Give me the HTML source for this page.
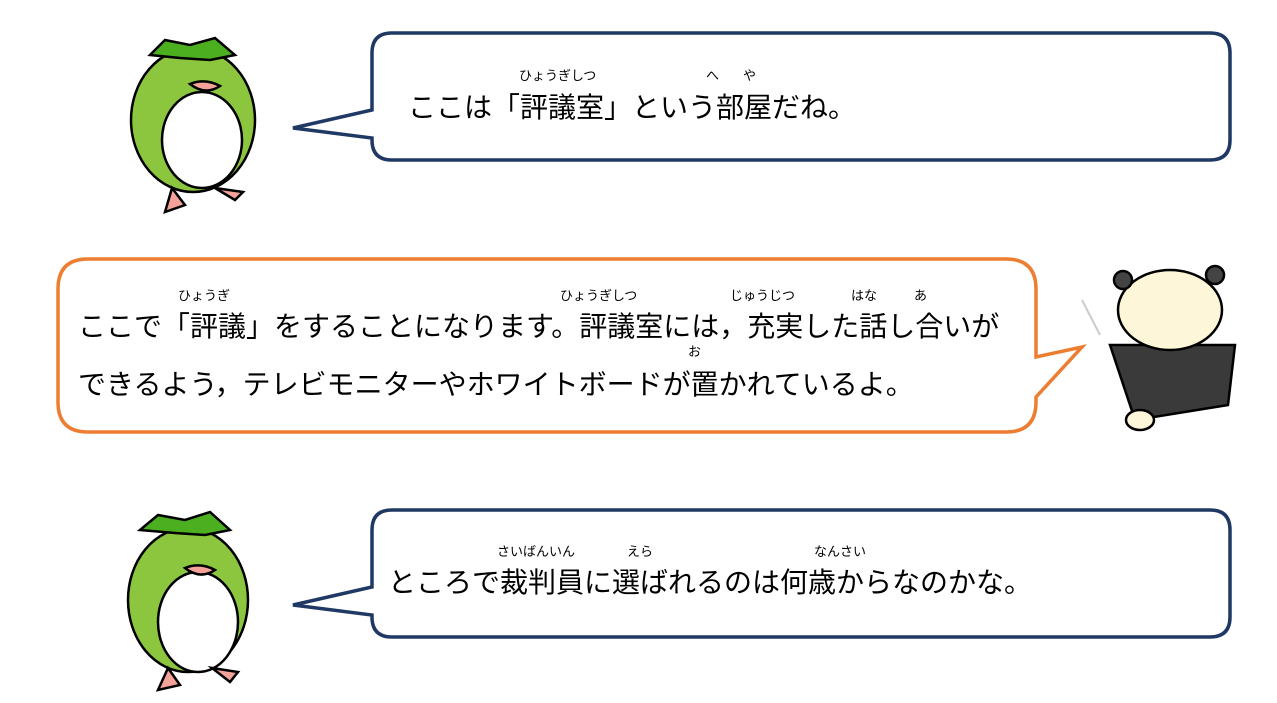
<!DOCTYPE html>
<html><head><meta charset="utf-8"><style>
body{margin:0;width:1277px;height:703px;background:#fff;position:relative;overflow:hidden;font-family:"Liberation Sans","Noto Sans CJK JP",sans-serif;color:#000}
.t{position:absolute;font-size:28px;white-space:nowrap;line-height:1}
.r{position:absolute;font-size:13px;white-space:nowrap;line-height:1}
</style></head><body>
<svg width="1277" height="703" style="position:absolute;left:0;top:0">
<path d="M392,33 H1210 Q1230,33 1230,53 V140 Q1230,160 1210,160 H392 Q372,160 372,140 V138 L293,128 L372,110 V53 Q372,33 392,33 Z" fill="#fff" stroke="#1f3864" stroke-width="3.5"/>
<path d="M88,259 H1006 Q1036,259 1036,289 V357 L1082,347 L1036,397 V402 Q1036,432 1006,432 H88 Q58,432 58,402 V289 Q58,259 88,259 Z" fill="#fff" stroke="#ed7d31" stroke-width="3.5"/>
<path d="M392,510 H1210 Q1230,510 1230,530 V617 Q1230,637 1210,637 H392 Q372,637 372,617 V615 L293,605 L372,587 V530 Q372,510 392,510 Z" fill="#fff" stroke="#1f3864" stroke-width="3.5"/>
<g stroke="#000" stroke-width="2.5">
<ellipse cx="193" cy="120" rx="62" ry="72" fill="#8cc63f"/>
<path d="M150,55 L165,40 L190,45 L215,38 L235,55 L210,60 L180,58 Z" fill="#4caf20"/>
<ellipse cx="202" cy="140" rx="40" ry="48" fill="#fff"/>
<path d="M190,84 Q205,78 220,86 Q205,96 190,84Z" fill="#f4a29a"/>
<path d="M172,188 L165,212 L185,205 Z M215,188 L235,200 L243,192 Z" fill="#f4a29a"/>
</g>
<g stroke="#000" stroke-width="2.5">
<ellipse cx="188" cy="600" rx="60" ry="72" fill="#8cc63f"/>
<path d="M140,530 L158,515 L185,520 L210,512 L230,530 L205,535 L175,533 Z" fill="#4caf20"/>
<ellipse cx="198" cy="622" rx="40" ry="50" fill="#fff"/>
<path d="M185,568 Q200,562 215,570 Q200,580 185,568Z" fill="#f4a29a"/>
<path d="M168,668 L158,690 L180,685 Z M212,668 L230,682 L238,672 Z" fill="#f4a29a"/>
</g>
<g stroke="#000" stroke-width="2.5">
<path d="M1110,345 L1235,345 L1228,405 L1135,420 Z" fill="#3a3a3a"/>
<ellipse cx="1170" cy="310" rx="52" ry="40" fill="#fdf6d8"/>
<circle cx="1123" cy="280" r="9" fill="#444"/><circle cx="1215" cy="275" r="9" fill="#444"/>
<ellipse cx="1140" cy="420" rx="14" ry="10" fill="#fdf6d8"/>
</g>
<line x1="1082" y1="300" x2="1100" y2="335" stroke="#ccc" stroke-width="2"/>
</svg>
<div class="r" style="left:519px;top:69px">ひょうぎしつ</div>
<div class="r" style="left:706px;top:69px">へ</div>
<div class="r" style="left:743px;top:69px">や</div>
<div class="t" style="left:408px;top:94px">ここは「評議室」という部屋だね。</div>
<div class="r" style="left:178px;top:289px">ひょうぎ</div>
<div class="r" style="left:560px;top:289px">ひょうぎしつ</div>
<div class="r" style="left:730px;top:289px">じゅうじつ</div>
<div class="r" style="left:851px;top:289px">はな</div>
<div class="r" style="left:914px;top:289px">あ</div>
<div class="t" style="left:78px;top:313px">ここで「評議」をすることになります。評議室には，充実した話し合いが</div>
<div class="r" style="left:688px;top:345px">お</div>
<div class="t" style="left:78px;top:371px">できるよう，テレビモニターやホワイトボードが置かれているよ。</div>
<div class="r" style="left:497px;top:545px">さいばんいん</div>
<div class="r" style="left:627px;top:545px">えら</div>
<div class="r" style="left:814px;top:545px">なんさい</div>
<div class="t" style="left:388px;top:569px">ところで裁判員に選ばれるのは何歳からなのかな。</div>
</body></html>
